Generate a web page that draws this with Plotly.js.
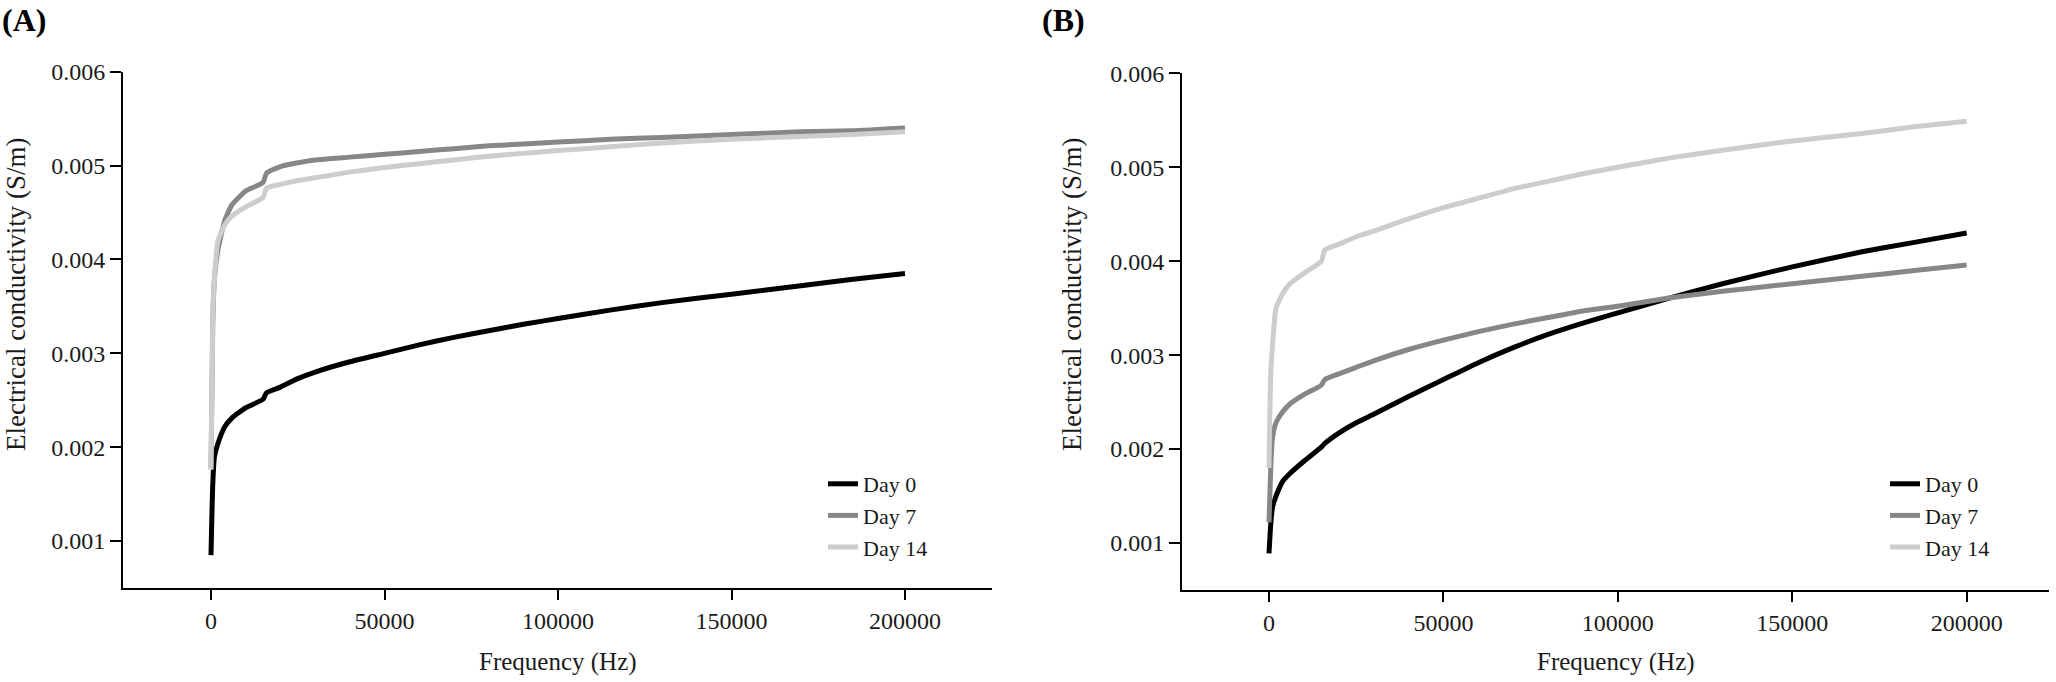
<!DOCTYPE html>
<html>
<head>
<meta charset="utf-8">
<script src="https://cdn.plot.ly/plotly-3.0.1.min.js"></script>
<style>html,body{margin:0;padding:0;background:#fff;} #chart{width:2056px;height:682px;}</style>
</head>
<body>
<div id="chart"></div>
<script>
// ---- data ----
const freq = [0, 500, 1000, 2000, 4000, 6000, 10000, 15000, 16000, 20000, 25000, 30000, 40000, 50000,
  60000, 70000, 80000, 90000, 100000, 115000, 130000, 150000, 170000, 185000, 200000];

const seriesNames = ["Day 0", "Day 7", "Day 14"];

// Panel (A)
const aDay0 = [0.00085, 0.00160, 0.00190, 0.00204, 0.00222, 0.00231, 0.00242, 0.00251, 0.00258, 0.00264,
  0.00273, 0.00280, 0.00291, 0.00300, 0.00309, 0.00317, 0.00324, 0.00331, 0.00337, 0.00346, 0.00354,
  0.00363, 0.00372, 0.00379, 0.00385];
const aDay7 = [0.00178, 0.00330, 0.00380, 0.00410, 0.00442, 0.00458, 0.00473, 0.00482, 0.00492, 0.00499,
  0.00503, 0.00506, 0.00509, 0.00512, 0.00515, 0.00518, 0.00521, 0.00523, 0.00525, 0.00528, 0.00530,
  0.00533, 0.00536, 0.00537, 0.00540];
const aDay14 = [0.00176, 0.00340, 0.00380, 0.00420, 0.00437, 0.00446, 0.00456, 0.00466, 0.00476, 0.00480,
  0.00484, 0.00487, 0.00493, 0.00498, 0.00502, 0.00506, 0.00510, 0.00513, 0.00516, 0.00520, 0.00524,
  0.00528, 0.00531, 0.00533, 0.00536];

// Panel (B)
const bDay0 = [0.00089, 0.00120, 0.00138, 0.00150, 0.00166, 0.00174, 0.00187, 0.00202, 0.00206, 0.00217,
  0.00228, 0.00237, 0.00256, 0.00274, 0.00292, 0.00308, 0.00322, 0.00334, 0.00345, 0.00361, 0.00376,
  0.00394, 0.00410, 0.00420, 0.00430];
const bDay7 = [0.00122, 0.00180, 0.00212, 0.00228, 0.00240, 0.00248, 0.00258, 0.00268, 0.00274, 0.00280,
  0.00287, 0.00294, 0.00306, 0.00316, 0.00325, 0.00333, 0.00340, 0.00347, 0.00352, 0.00361, 0.00368,
  0.00376, 0.00384, 0.00390, 0.00396];
const bDay14 = [0.00180, 0.00280, 0.00310, 0.00350, 0.00366, 0.00376, 0.00387, 0.00400, 0.00412, 0.00418,
  0.00426, 0.00432, 0.00445, 0.00457, 0.00467, 0.00477, 0.00485, 0.00493, 0.00500, 0.00510, 0.00518,
  0.00528, 0.00536, 0.00543, 0.00549];

const xTickVals = [0, 50000, 100000, 150000, 200000];
const yTickVals = [0.001, 0.002, 0.003, 0.004, 0.005, 0.006];
const panelLabels = ["(A)", "(B)"];
const xTitle = "Frequency (Hz)";
const yTitle = "Electrical conductivity (S/m)";

// ---- styling ----
const colors = ["#000000", "#878787", "#cdcdcd"];
const serif = "Liberation Serif";
const W = 2056, H = 682;

function mk(y, i, xa, ya, leg) {
  return {
    x: freq, y: y, type: "scatter", mode: "lines", name: seriesNames[i],
    xaxis: xa, yaxis: ya, legend: leg,
    line: {color: colors[i], width: 5, shape: "spline", smoothing: 0.5},
    hoverinfo: "skip"
  };
}

const traces = [
  mk(aDay0, 0, "x", "y", "legend"), mk(aDay7, 1, "x", "y", "legend"), mk(aDay14, 2, "x", "y", "legend"),
  mk(bDay0, 0, "x2", "y2", "legend2"), mk(bDay7, 1, "x2", "y2", "legend2"), mk(bDay14, 2, "x2", "y2", "legend2")
];

function xax(domain, range) {
  return {
    domain: domain, range: range, showline: true, linecolor: "#000", linewidth: 2,
    ticks: "outside", ticklen: 10, tickwidth: 2, tickcolor: "#000",
    tickvals: xTickVals, tickformat: "d", showgrid: false, zeroline: false,
    tickfont: {family: serif, size: 24, color: "#1a1a1a"}, automargin: false, fixedrange: true
  };
}
function yax(domain, anchor) {
  return {
    domain: domain, range: [0.0005, 0.006], anchor: anchor, showline: true, linecolor: "#000", linewidth: 2,
    ticks: "outside", ticklen: 11, tickwidth: 2, tickcolor: "#000",
    tickvals: yTickVals, tickformat: ".3f", showgrid: false, zeroline: false,
    tickfont: {family: serif, size: 24, color: "#1a1a1a"}, automargin: false, fixedrange: true
  };
}

const legFont = {family: serif, size: 22, color: "#1a1a1a"};
const layout = {
  width: W, height: H,
  font: {family: serif},
  margin: {l: 0, r: 0, t: 0, b: 0},
  paper_bgcolor: "#fff", plot_bgcolor: "#fff",
  showlegend: true,
  xaxis: Object.assign(xax([123 / W, 992 / W], [-25360, 225070]), {anchor: "y"}),
  yaxis: yax([1 - 588 / H, 1 - 71.7 / H], "x"),
  xaxis2: Object.assign(xax([1182 / W, 2049 / W], [-24940, 223600]), {anchor: "y2"}),
  yaxis2: yax([1 - 590 / H, 1 - 73.3 / H], "x2"),
  legend: {x: 823 / W, xanchor: "left", y: 1 - 463 / H, yanchor: "top", bgcolor: "rgba(0,0,0,0)",
    font: legFont, tracegroupgap: 0, itemwidth: 30},
  legend2: {x: 1885 / W, xanchor: "left", y: 1 - 463 / H, yanchor: "top", bgcolor: "rgba(0,0,0,0)",
    font: legFont, tracegroupgap: 0, itemwidth: 30},
  annotations: [
    {text: "<b>" + panelLabels[0] + "</b>", xref: "paper", yref: "paper", x: 0, xanchor: "left",
      y: 1 - 20 / H, yanchor: "middle", showarrow: false, font: {family: serif, size: 32, color: "#000"}},
    {text: "<b>" + panelLabels[1] + "</b>", xref: "paper", yref: "paper", x: 1040 / W, xanchor: "left",
      y: 1 - 20 / H, yanchor: "middle", showarrow: false, font: {family: serif, size: 32, color: "#000"}},
    {text: yTitle, xref: "paper", yref: "paper", x: 16 / W, xanchor: "center", y: 1 - 295 / H,
      yanchor: "middle", textangle: -90, showarrow: false, font: {family: serif, size: 27, color: "#1a1a1a"}},
    {text: yTitle, xref: "paper", yref: "paper", x: 1072 / W, xanchor: "center", y: 1 - 295 / H,
      yanchor: "middle", textangle: -90, showarrow: false, font: {family: serif, size: 27, color: "#1a1a1a"}},
    {text: xTitle, xref: "paper", yref: "paper", x: 557.5 / W, xanchor: "center", y: 1 - 662 / H,
      yanchor: "middle", showarrow: false, font: {family: serif, size: 25, color: "#1a1a1a"}},
    {text: xTitle, xref: "paper", yref: "paper", x: 1615.5 / W, xanchor: "center", y: 1 - 662 / H,
      yanchor: "middle", showarrow: false, font: {family: serif, size: 25, color: "#1a1a1a"}}
  ]
};

Plotly.newPlot("chart", traces, layout, {staticPlot: true, displayModeBar: false});
</script>
</body>
</html>
